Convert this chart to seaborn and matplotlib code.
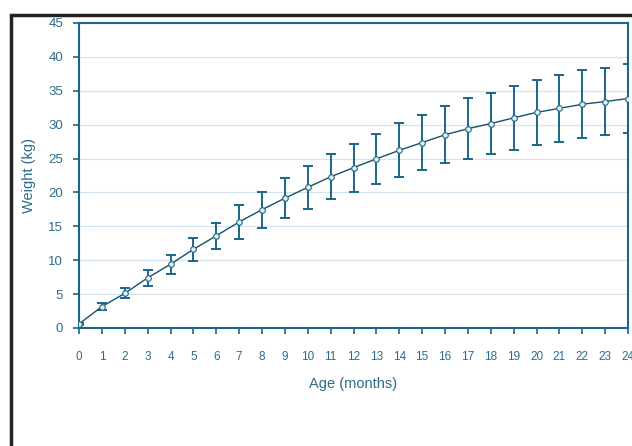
import matplotlib
matplotlib.use("Agg")
import matplotlib.pyplot as plt
import seaborn as sns
import pandas as pd
from matplotlib.patches import Rectangle

# values
age_months = list(range(25))
weight_mean = [0.6, 3.15, 5.1, 7.4, 9.4, 11.6, 13.6, 15.65, 17.45, 19.15,
               20.75, 22.3, 23.65, 24.95, 26.2, 27.35, 28.5, 29.4, 30.15, 31.0,
               31.8, 32.4, 33.0, 33.4, 33.85]
weight_err = [0.2, 0.5, 0.75, 1.15, 1.4, 1.7, 1.9, 2.45, 2.65, 2.95,
              3.15, 3.3, 3.55, 3.65, 4.0, 4.05, 4.2, 4.5, 4.55, 4.7,
              4.8, 4.9, 5.0, 5.0, 5.05]
y_ticks = [0, 5, 10, 15, 20, 25, 30, 35, 40, 45]

df = pd.DataFrame({"age": age_months, "weight": weight_mean, "err": weight_err})

LINE = "#1b6688"
TEXT = "#2b6c8c"
GRID = "#d3e3ef"

sns.set_theme(style="white")
plt.rcParams["font.family"] = ["Liberation Sans", "DejaVu Sans"]

fig = plt.figure(figsize=(6.32, 4.46), dpi=100)
ax = fig.add_axes([0.125, 0.2646, 0.8687, 0.684])

# outer black frame (runs off the right and bottom of the image)
fig.patches.append(Rectangle((11 / 632, -0.05), 1.2, 1 - 15 / 446 + 0.05,
                             transform=fig.transFigure, fill=False,
                             edgecolor="#222222", linewidth=2.5, clip_on=False))

ax.errorbar(df["age"], df["weight"], yerr=df["err"], fmt="none",
            ecolor=LINE, elinewidth=1.4, capsize=3.6, capthick=1.4, zorder=3)
sns.lineplot(data=df, x="age", y="weight", ax=ax, color="#16506c", linewidth=1.0,
             marker="o", markersize=4, markerfacecolor="#e8f0f5",
             markeredgecolor=LINE, markeredgewidth=0.8, zorder=4)

ax.set_xlim(0, 24)
ax.set_ylim(0, 45)
ax.set_xticks(age_months)
ax.set_yticks(y_ticks)
ax.yaxis.grid(True, color=GRID, linewidth=0.9)
ax.set_axisbelow(True)

for s in ax.spines.values():
    s.set_color(LINE)
    s.set_linewidth(1.5)

ax.tick_params(axis="y", direction="out", length=4.5, width=1.2, color=LINE,
               labelcolor=TEXT, labelsize=9.5, pad=7, left=True)
ax.tick_params(axis="x", direction="out", length=4.5, width=1.2, color=LINE,
               labelcolor=TEXT, labelsize=8.5, pad=12, bottom=True)

ax.set_xlabel("Age (months)", color=TEXT, fontsize=10.5, labelpad=10)
ax.set_ylabel("Weight (kg)", color=TEXT, fontsize=10.5, labelpad=9)

fig.savefig("out.png", dpi=100)
